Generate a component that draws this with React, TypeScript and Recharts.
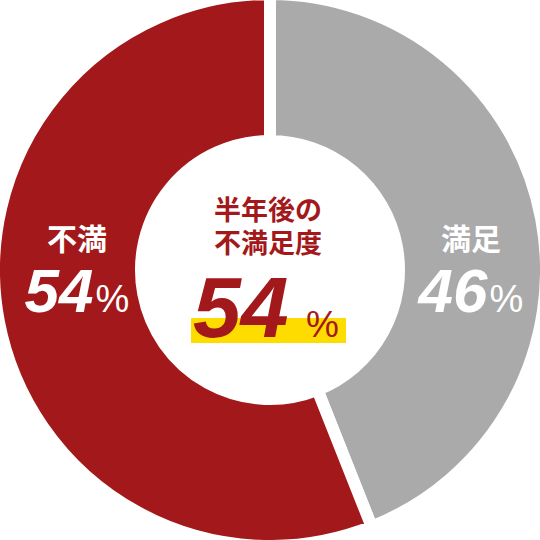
import React from 'react';
import { PieChart, Pie, Cell } from 'recharts';

// slice shares as drawn (the printed labels read 46 / 54)
const categories = ['満足', '不満'];
const shares = [44, 56];
const labelPercents = [46, 54];
const colors = ['#aaaaaa', '#a3191b'];

const centerTitle = ['半年後の', '不満足度'];
const centerPercent = 54;

const data = categories.map((name, i) => ({ name, value: shares[i], pct: labelPercents[i] }));

const jpFont = '"Noto Sans CJK JP", "Noto Sans", sans-serif';
const numFont = '"Liberation Sans", Arial, sans-serif';

const renderSideLabel = (props: any) => {
  const { cx, cy, index } = props;
  const item = data[index];
  const x = index === 0 ? cx + 201 : cx - 193;
  return (
    <g>
      <text x={x} y={cy - 20} textAnchor="middle" fill="#fff" fontFamily={jpFont} fontWeight={700} fontSize={30}>
        {item.name}
      </text>
      <text x={x} y={cy + 42} textAnchor="middle" fill="#fff" fontFamily={numFont}>
        <tspan fontSize={62} fontWeight={700} fontStyle="italic">{item.pct}</tspan>
        <tspan fontSize={38} dx={2}>%</tspan>
      </text>
    </g>
  );
};

const CenterText = () => (
  <svg width={540} height={540} style={{ position: 'absolute', left: 0, top: 0, pointerEvents: 'none' }}>
    <rect x={191} y={318} width={155} height={25} fill="#ffdc00" />
    <text x={268} y={220} textAnchor="middle" fill={colors[1]} fontFamily={jpFont} fontWeight={700} fontSize={27}>
      {centerTitle[0]}
    </text>
    <text x={268} y={253} textAnchor="middle" fill={colors[1]} fontFamily={jpFont} fontWeight={700} fontSize={27}>
      {centerTitle[1]}
    </text>
    <text x={193} y={337} fill={colors[1]} fontFamily={numFont} fontWeight={700} fontStyle="italic" fontSize={86}>
      {centerPercent}
    </text>
    <text x={306} y={337} fill={colors[1]} fontFamily={numFont} fontSize={37}>
      %
    </text>
  </svg>
);

export default function App() {
  return (
    <div style={{ position: 'relative', width: 540, height: 540, background: '#fff' }}>
      <style>{'body{margin:0}'}</style>
      <PieChart width={540} height={540} margin={{ top: 0, right: 0, bottom: 0, left: 0 }}>
        <Pie
          data={data}
          dataKey="value"
          cx={270}
          cy={270}
          innerRadius={129}
          outerRadius={276}
          startAngle={90}
          endAngle={-270}
          stroke="#fff"
          strokeWidth={12}
          label={renderSideLabel}
          labelLine={false}
          isAnimationActive={false}
        >
          {data.map((d, i) => (
            <Cell key={d.name} fill={colors[i]} />
          ))}
        </Pie>
      </PieChart>
      <CenterText />
    </div>
  );
}
